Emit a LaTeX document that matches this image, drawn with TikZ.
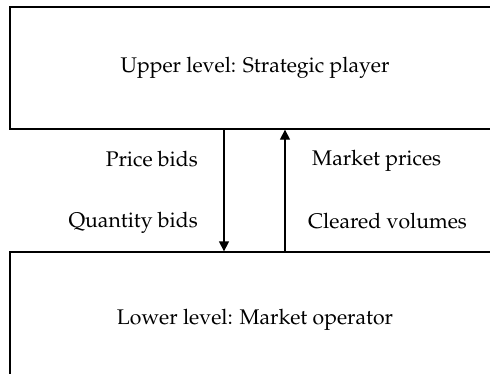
\documentclass[tikz,border=0pt]{standalone}
\usepackage[T1]{fontenc}
\usepackage{mathpazo}
\usetikzlibrary{arrows.meta}
\tikzset{
  level/.style={draw, line width=1.3pt, inner sep=0pt, font=\fontsize{21.2}{25}\selectfont},
  flow/.style={line width=1.3pt, -{Triangle[length=10pt,width=10pt]}},
  lbl/.style={inner sep=0pt, font=\fontsize{21.2}{25}\selectfont}
}
\begin{document}
\begin{tikzpicture}[x=1pt,y=-1pt]
  \useasboundingbox (0,0) rectangle (490,373);
  \begin{scope}
    \clip (0,0) rectangle (490,373);
    % the two levels of the bilevel model
    \node[level, minimum width=490pt, minimum height=122pt] (upper) at (255,68)
      {Upper level: Strategic player};
    \node[level, minimum width=490pt, minimum height=136pt] (lower) at (255,320)
      {Lower level: Market operator};
  \end{scope}
  % vertical positions of the two connectors
  \coordinate (down) at (224,0);
  \coordinate (up) at (285,0);
  \draw[flow] (upper.south -| down) -- (lower.north -| down);
  \draw[flow] (lower.north -| up) -- (upper.south -| up);
  % exchanged quantities
  \node[lbl, anchor=base east] (pb) at (198,166) {Price bids};
  \node[lbl, anchor=base east] (qb) at (198,227) {Quantity bids};
  \node[lbl, anchor=base west] (mp) at (312,165) {Market prices};
  \node[lbl, anchor=base west] (cv) at (308,228) {Cleared volumes};
\end{tikzpicture}
\end{document}
